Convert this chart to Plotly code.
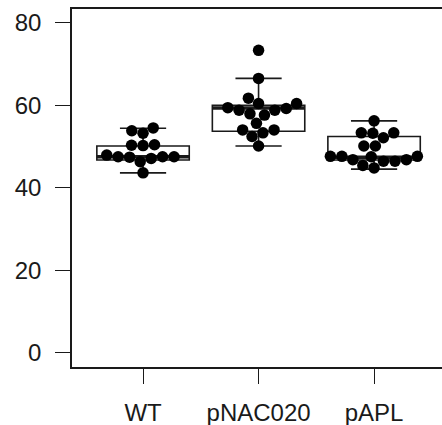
import math
import plotly.graph_objects as go

# ---- data ----
groups = ["WT", "pNAC020", "pAPL"]
wt_values = [54.5, 53.8, 53.2, 50.4, 50.3, 50.2, 47.9, 47.5, 47.5, 47.4, 47.5, 47.1, 46.3, 43.6]
pnac020_values = [73.3, 66.5, 61.7, 60.4, 60.4, 59.4, 59.2, 58.8, 58.8, 57.9, 57.6, 55.6, 54.0,
                  54.0, 53.3, 52.4, 50.1]
papl_values = [56.2, 53.3, 53.3, 53.2, 52.1, 50.1, 50.1, 47.6, 47.6, 47.5, 47.6, 46.8, 46.8,
               46.4, 46.4, 45.4, 44.8]
series = [wt_values, pnac020_values, papl_values]

# box statistics
box_lower = [43.6, 50.1, 44.5]
box_q1 = [46.7, 53.7, 46.7]
box_median = [47.5, 59.3, 47.4]
box_q3 = [50.1, 60.0, 52.4]
box_upper = [54.4, 66.5, 56.2]

y_ticks = [0, 20, 40, 60, 80]

# ---- layout geometry ----
W, H = 442, 425
ML, MR, MT, MB = 72, 0, 9, 58
x_range = [0.385, 3.588]
y_range = [-3.47, 83.32]
px_per_x = (W - ML - MR) / (x_range[1] - x_range[0])
px_per_y = (H - MT - MB) / (y_range[1] - y_range[0])
DOT = 11.5  # marker diameter in px


def swarm_offsets(vals):
    """Beeswarm-style 'swarm' placement (ascending priority) in pixel space."""
    order = sorted(range(len(vals)), key=lambda i: vals[i])
    placed = []  # (x_px, y_px)
    offs = [0.0] * len(vals)
    for i in order:
        y = vals[i] * px_per_y
        cands = [0.0]
        for (px, py) in placed:
            dy = abs(y - py)
            if dy < DOT:
                dx = math.sqrt(DOT * DOT - dy * dy)
                cands += [px + dx, px - dx]
        cands.sort(key=lambda c: (abs(c), c))
        for c in cands:
            ok = all((c - px) ** 2 + (y - py) ** 2 >= DOT * DOT - 1e-6 for (px, py) in placed)
            if ok:
                placed.append((c, y))
                offs[i] = c / px_per_x
                break
    return offs


fig = go.Figure()
ink = "#1a1a1a"

for gi, name in enumerate(groups):
    pos = gi + 1
    fig.add_trace(go.Box(
        x=[pos], q1=[box_q1[gi]], median=[box_median[gi]], q3=[box_q3[gi]],
        lowerfence=[box_lower[gi]], upperfence=[box_upper[gi]],
        width=0.8, whiskerwidth=0.5, boxpoints=False,
        line=dict(color=ink, width=1.6), fillcolor="white",
        showlegend=False, hoverinfo="skip",
    ))
    # thick median line
    fig.add_trace(go.Scatter(
        x=[pos - 0.4, pos + 0.4], y=[box_median[gi], box_median[gi]],
        mode="lines", line=dict(color=ink, width=3.5),
        showlegend=False, hoverinfo="skip",
    ))

for gi, vals in enumerate(series):
    offs = swarm_offsets(vals)
    fig.add_trace(go.Scatter(
        x=[gi + 1 + o for o in offs], y=vals, mode="markers",
        marker=dict(color="black", size=DOT, line=dict(width=0)),
        showlegend=False,
    ))

font = dict(family="Liberation Sans, Arial, sans-serif", size=24, color=ink)
fig.update_layout(
    width=W, height=H,
    margin=dict(l=ML, r=MR, t=MT, b=MB, pad=0, autoexpand=False),
    paper_bgcolor="white", plot_bgcolor="white",
    font=font,
    xaxis=dict(range=x_range, tickvals=[1, 2, 3], ticktext=groups, automargin=False,
               showgrid=False, zeroline=False, showline=True, mirror=True,
               linecolor=ink, linewidth=1.6,
               ticks="outside", ticklen=15, tickwidth=1.4, tickcolor=ink,
               ticklabelstandoff=8, tickfont=font),
    yaxis=dict(range=y_range, tickvals=y_ticks, automargin=False,
               showgrid=False, zeroline=False, showline=True, mirror=False,
               linecolor=ink, linewidth=1.6,
               ticks="outside", ticklen=15, tickwidth=1.4, tickcolor=ink,
               ticklabelstandoff=9, tickfont=font),
)

fig.write_html("out.html")
